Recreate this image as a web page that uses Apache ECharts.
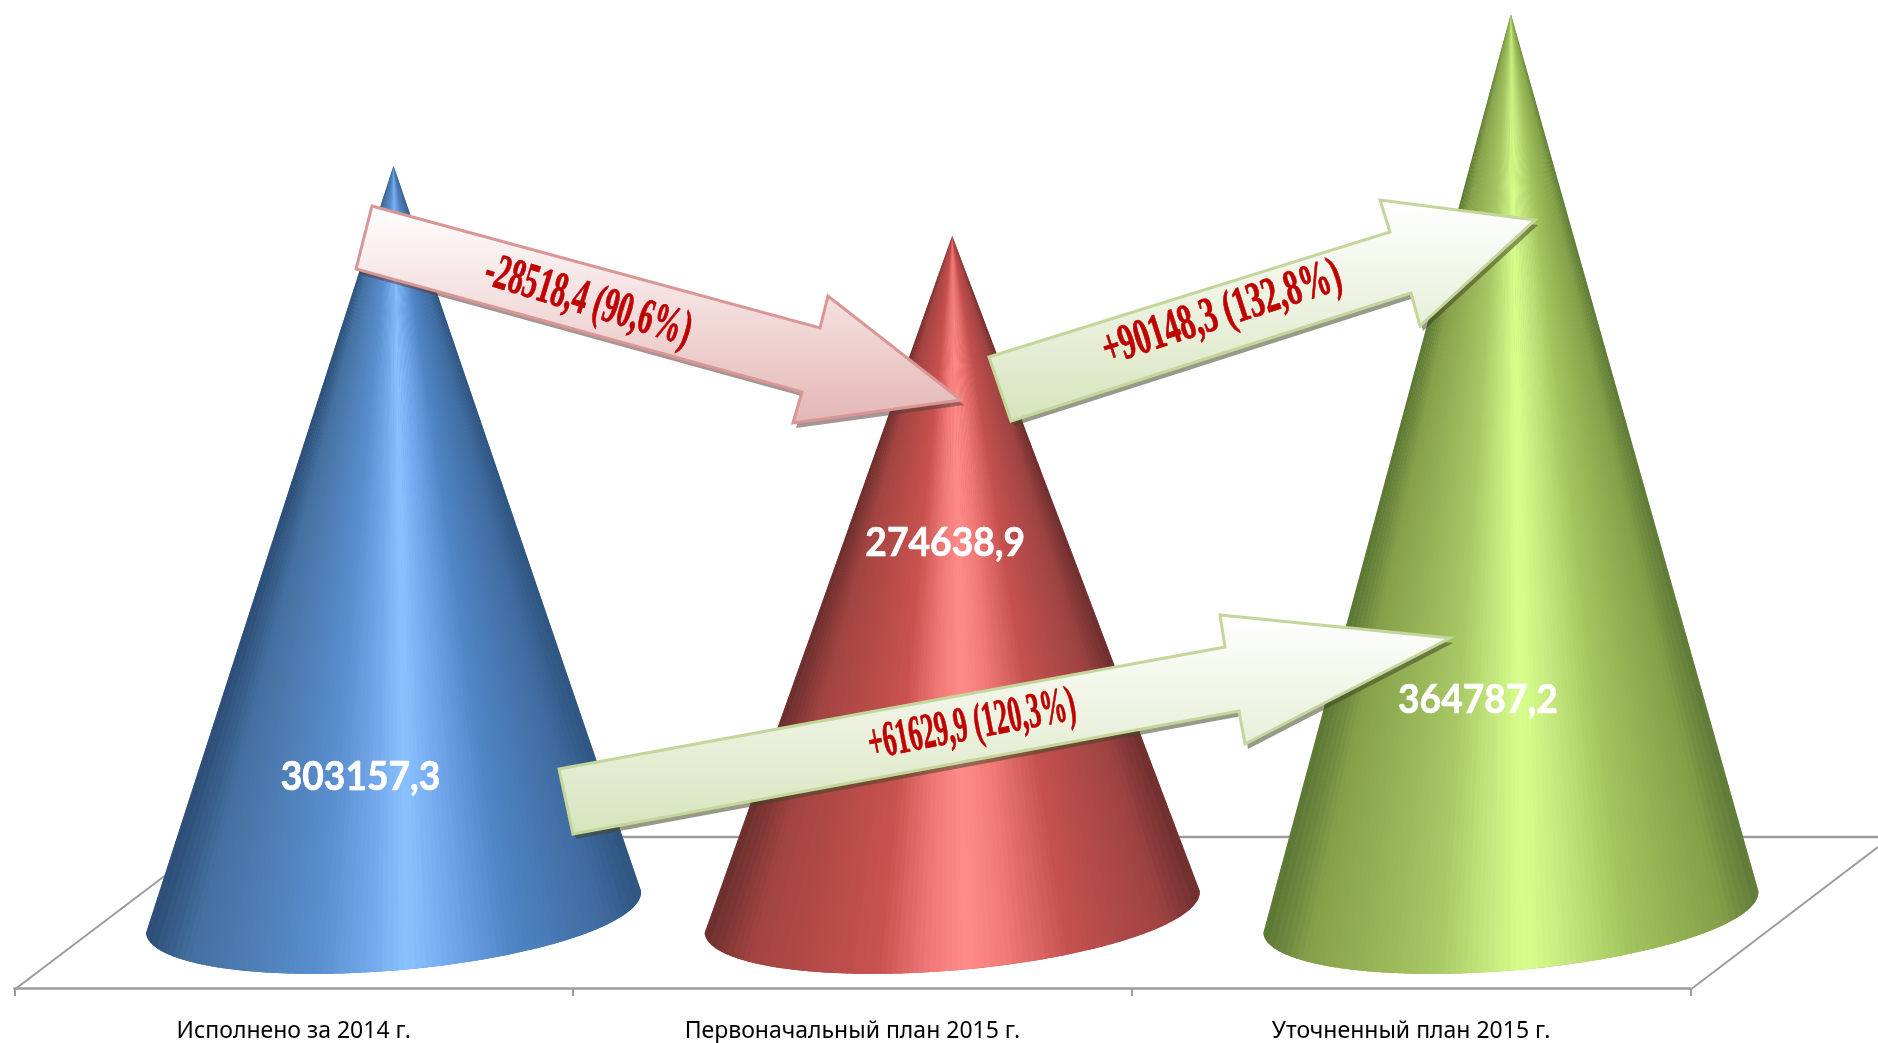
<!DOCTYPE html>
<html><head><meta charset="utf-8">
<style>html,body{margin:0;padding:0;background:#fff}#c{width:1878px;height:1043px}</style>
<script src="https://cdn.jsdelivr.net/npm/echarts@6/dist/echarts.min.js"></script>
</head><body><div id="c"></div>
<script>
const categories = ['Исполнено за 2014 г.', 'Первоначальный план 2015 г.', 'Уточненный план 2015 г.'];
const values = [303157.3, 274638.9, 364787.2];
const changeLabels = ['-28518,4 (90,6%)', '+61629,9 (120,3%)', '+90148,3 (132,8%)'];

const shadeAt = [0, 0.09, 0.35, 0.46, 0.53, 0.61, 0.74, 0.93, 1];
const palettes = [
  ['#2b4d75','#44709f','#5a8fd0','#74aaec','#8ac2ff','#75aaee','#4f86c6','#3f6a9e','#2f5580'],
  ['#6b2f2d','#a14441','#c9524f','#f27a78','#ff8c8a','#f27a78','#c45150','#9c4341','#6e2f2e'],
  ['#5a7634','#86a04a','#a8c865','#c6ea7f','#d8ff8c','#c6ea7f','#a3c45e','#82a048','#5f7a38']
];
const labelOffsets = [[-33, -135], [-7, -369], [-33, -212]];
const labelFmt = v => String(v).replace('.', ',');

function hex(c){return [1,3,5].map(i=>parseInt(c.substr(i,2),16));}
function shade(p, f){
  for(let i=1;i<shadeAt.length;i++){
    if(f<=shadeAt[i]){
      const t=(f-shadeAt[i-1])/(shadeAt[i]-shadeAt[i-1]);
      const a=hex(p[i-1]),b=hex(p[i]);
      return 'rgb('+a.map((x,k)=>Math.round(x+(b[k]-x)*t)).join(',')+')';
    }
  }
  return p[p.length-1];
}
function coneItem(params, api){
  const idx=api.value(0), v=api.value(1);
  const apex=api.coord([idx,v]), base=api.coord([idx,0]);
  const hw=api.size([1,0])[0]*0.443;
  const a=[hw,-0.085*hw], b=[0.02*hw,0.235*hw];
  const N=600, bands=90, kids=[];
  const pt=t=>{const th=Math.PI*(1-t);return [base[0]+a[0]*Math.cos(th)+b[0]*Math.sin(th), base[1]+a[1]*Math.cos(th)+b[1]*Math.sin(th)];};
  const outline=[[apex[0],apex[1]]];
  for(let i=0;i<=N;i+=4)outline.push(pt(i/N));
  kids.push({type:'polygon',shape:{points:outline},style:{fill:shade(palettes[idx],0.25)}});
  let cur=[[apex[0],apex[1]],pt(0)], curBand=0;
  const flush=(band)=>{
    const c=shade(palettes[idx],(band+0.5)/bands);
    kids.push({type:'polygon',shape:{points:cur},style:{fill:c}});
  };
  for(let i=1;i<=N;i++){
    const p=pt(i/N);
    const f=Math.max(0,Math.min(0.9999,(p[0]-(base[0]-hw))/(2*hw)));
    const band=Math.floor(f*bands);
    cur.push(p);
    if(band!==curBand||i===N){
      flush(curBand);
      cur=[[apex[0],apex[1]],pt((i-1)/N),p];
      curBand=band;
    }
  }
  const off=labelOffsets[idx];
  kids.push({type:'text',x:base[0]+off[0],y:base[1]+off[1],scaleX:0.93,z2:5,style:{text:labelFmt(v),fill:'#fff',stroke:'#fff',lineWidth:0.7,font:'bold 40px Lato, "Noto Sans", sans-serif',textAlign:'center',textVerticalAlign:'middle'}});
  return {type:'group',children:kids};
}

const GREY='#9c9c9c';
function arrowShadow(pts, col){
  return {type:'polygon',z:9,x:3,y:5,shape:{points:pts},style:{fill:col}};
}
function arrow(pts, top, bottom, stroke){
  return {type:'polygon',z:10,shape:{points:pts},style:{
    fill:new echarts.graphic.LinearGradient(0,0,0,1,[{offset:0,color:top},{offset:1,color:bottom}]),
    stroke:stroke,lineWidth:3,lineJoin:'miter'}};
}
function arrowText(text,x,y,deg,sx){
  return {type:'text',z:11,x:x,y:y,rotation:deg*Math.PI/180,scaleX:sx,scaleY:1,
    style:{text:text,fill:'#c00000',stroke:'#c00000',lineWidth:0.8,font:'bold 50px "Liberation Serif", serif',textAlign:'center',textVerticalAlign:'middle'}};
}
const arrowDown=[[372,206],[820,328],[828,296],[961,400],[793,423],[802,392],[356,269]];
const arrowLow=[[559,769],[1225,647],[1220,615],[1450,638],[1245,744],[1239,711],[573,834]];
const arrowUp=[[989,357],[1390,232],[1380,200],[1535,220],[1420,326],[1411,293],[1011,421]];

const chart=echarts.init(document.getElementById('c'),null,{renderer:'canvas'});
chart.setOption({
  animation:false,
  backgroundColor:'#fff',
  grid:[
    {left:14.4,top:14,width:1676,height:977},
    {left:114.2,top:14,width:1676,height:898}
  ],
  xAxis:[
    {gridIndex:0,type:'category',data:categories,
      axisLine:{show:true,lineStyle:{color:GREY,width:2.5}},
      axisTick:{show:true,length:8,lineStyle:{color:GREY,width:2}},
      axisLabel:{color:'#000',fontSize:23,fontFamily:'"Noto Sans", sans-serif',margin:32}},
    {gridIndex:1,type:'category',data:categories,show:false}
  ],
  yAxis:[
    {gridIndex:0,type:'value',min:0,max:1,show:false},
    {gridIndex:1,type:'value',min:0,max:364787.2,show:false}
  ],
  series:[{
    type:'custom',xAxisIndex:1,yAxisIndex:1,z:5,
    encode:{x:0,y:1},
    data:values.map((v,i)=>[i,v]),
    renderItem:coneItem
  }],
  graphic:[
    {type:'line',z:0,shape:{x1:216,y1:837,x2:1878,y2:837},style:{stroke:GREY,lineWidth:2.5}},
    {type:'line',z:0,shape:{x1:14,y1:990,x2:216,y2:837},style:{stroke:GREY,lineWidth:2}},
    {type:'line',z:0,shape:{x1:1690,y1:990,x2:1878,y2:847},style:{stroke:GREY,lineWidth:2}},
    arrowShadow(arrowDown,'rgba(90,60,60,0.55)'),
    arrowShadow(arrowLow,'rgba(70,70,40,0.55)'),
    arrowShadow(arrowUp,'rgba(70,70,40,0.55)'),
    arrow(arrowDown,'#ffffff','#e3b7b5','#d99694'),
    arrow(arrowLow,'#ffffff','#d7e4bd','#c3d69b'),
    arrow(arrowUp,'#ffffff','#d7e4bd','#c3d69b'),
    arrowText(changeLabels[0],588,302,-17,0.59),
    arrowText(changeLabels[1],972,726,11,0.527),
    arrowText(changeLabels[2],1222,314,18,0.623)
  ]
});
</script></body></html>
